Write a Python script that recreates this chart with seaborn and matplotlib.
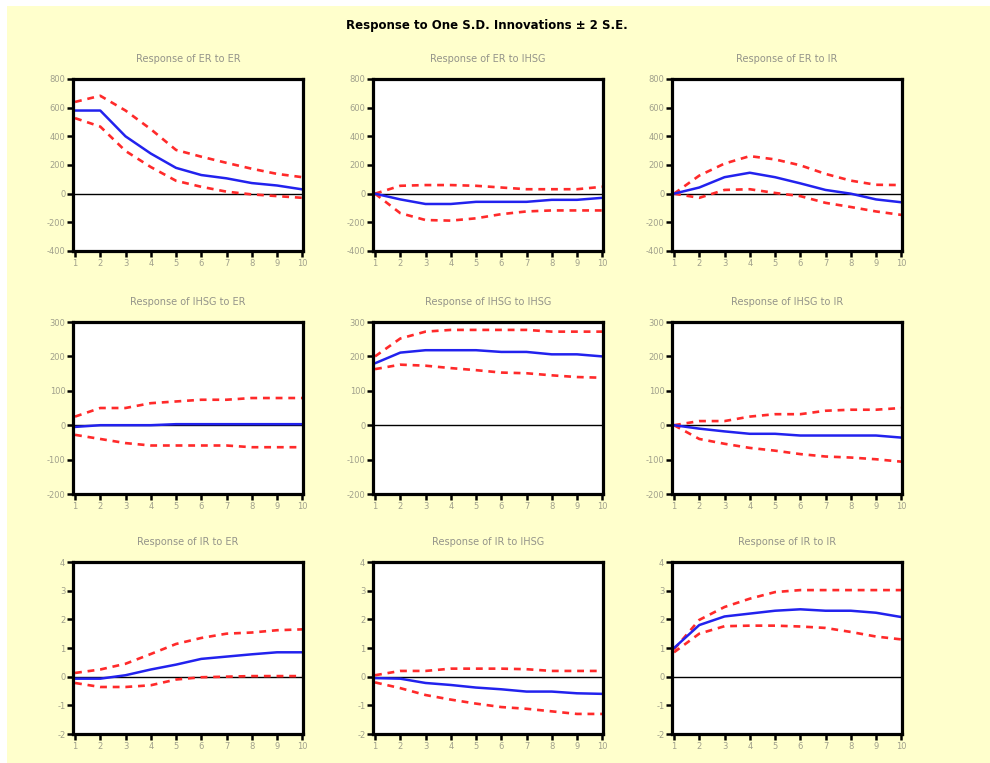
import numpy as np
import pandas as pd
import seaborn as sns
import matplotlib.pyplot as plt
from matplotlib.patches import Rectangle

# 脉冲响应期数
steps = [1, 2, 3, 4, 5, 6, 7, 8, 9, 10]
variables = ["ER", "IHSG", "IR"]

# Response of ER
er_er = [580, 580, 400, 280, 180, 130, 107, 74, 57, 30]
er_er_up = [640, 683, 580, 450, 305, 258, 215, 174, 138, 115]
er_er_lo = [527, 468, 298, 186, 90, 48, 14, -5, -17, -29]

er_ihsg = [0, -40, -72, -72, -57, -57, -57, -43, -43, -29]
er_ihsg_up = [0, 55, 60, 60, 55, 43, 31, 31, 31, 48]
er_ihsg_lo = [0, -136, -184, -188, -172, -143, -124, -117, -117, -117]

er_ir = [0, 43, 115, 146, 115, 72, 26, 0, -40, -60]
er_ir_up = [0, 126, 210, 262, 239, 198, 138, 91, 62, 60]
er_ir_lo = [0, -29, 26, 31, 5, -17, -64, -93, -124, -148]

# Response of IHSG
ihsg_er = [-5, 0, 0, 0, 3, 3, 3, 3, 3, 3]
ihsg_er_up = [25, 50, 50, 64, 69, 74, 74, 79, 79, 79]
ihsg_er_lo = [-28, -40, -52, -59, -59, -59, -59, -64, -64, -64]

ihsg_ihsg = [180, 211, 218, 218, 218, 213, 213, 206, 206, 200]
ihsg_ihsg_up = [200, 252, 272, 277, 277, 277, 277, 272, 272, 272]
ihsg_ihsg_lo = [163, 176, 173, 166, 160, 153, 151, 145, 140, 138]

ihsg_ir = [0, -10, -18, -25, -25, -30, -30, -30, -30, -36]
ihsg_ir_up = [0, 12, 12, 25, 32, 32, 42, 45, 45, 50]
ihsg_ir_lo = [0, -40, -54, -66, -74, -84, -91, -94, -99, -106]

# Response of IR
ir_er = [-0.07, -0.07, 0.05, 0.25, 0.42, 0.62, 0.70, 0.78, 0.85, 0.85]
ir_er_up = [0.13, 0.25, 0.45, 0.79, 1.14, 1.35, 1.50, 1.54, 1.62, 1.65]
ir_er_lo = [-0.22, -0.36, -0.36, -0.30, -0.10, -0.02, 0.0, 0.02, 0.02, 0.02]

ir_ihsg = [-0.05, -0.07, -0.22, -0.29, -0.38, -0.44, -0.52, -0.52, -0.58, -0.60]
ir_ihsg_up = [0.05, 0.20, 0.20, 0.28, 0.28, 0.28, 0.26, 0.20, 0.20, 0.20]
ir_ihsg_lo = [-0.20, -0.40, -0.64, -0.80, -0.94, -1.06, -1.12, -1.21, -1.30, -1.30]

ir_ir = [1.00, 1.80, 2.10, 2.20, 2.30, 2.35, 2.30, 2.30, 2.23, 2.08]
ir_ir_up = [0.95, 1.98, 2.43, 2.72, 2.95, 3.02, 3.02, 3.02, 3.02, 3.02]
ir_ir_lo = [0.85, 1.50, 1.76, 1.78, 1.78, 1.75, 1.70, 1.56, 1.40, 1.30]

panels = [
    [(er_er, er_er_up, er_er_lo), (er_ihsg, er_ihsg_up, er_ihsg_lo), (er_ir, er_ir_up, er_ir_lo)],
    [(ihsg_er, ihsg_er_up, ihsg_er_lo), (ihsg_ihsg, ihsg_ihsg_up, ihsg_ihsg_lo), (ihsg_ir, ihsg_ir_up, ihsg_ir_lo)],
    [(ir_er, ir_er_up, ir_er_lo), (ir_ihsg, ir_ihsg_up, ir_ihsg_lo), (ir_ir, ir_ir_up, ir_ir_lo)],
]
row_ylim = [(-400, 800), (-200, 300), (-2, 4)]
row_ticks = [[-400, -200, 0, 200, 400, 600, 800],
             [-200, -100, 0, 100, 200, 300],
             [-2, -1, 0, 1, 2, 3, 4]]

sns.set_style("white")
plt.rcParams['font.family'] = ['DejaVu Sans']
plt.rcParams['axes.unicode_minus'] = False

W, H = 990, 763
fig = plt.figure(figsize=(W / 100, H / 100), dpi=100, facecolor="#ffffcc")
# 左上角的白边
fig.patches.append(Rectangle((0, 1 - 6 / H), 1, 6 / H, transform=fig.transFigure,
                             facecolor="white", edgecolor="none", zorder=-5))
fig.patches.append(Rectangle((0, 0), 7 / W, 1, transform=fig.transFigure,
                             facecolor="white", edgecolor="none", zorder=-5))

fig.text(487 / W, 1 - 25 / H, "Response to One S.D. Innovations \u00b1 2 S.E.",
         ha="center", va="center", fontsize=8.5, fontweight="bold", color="black")

lefts = [73, 373, 672]
tops = [79, 322, 562]
aw, ah = 230, 172
text_gray = "#a0a08c"

for r in range(3):
    for c in range(3):
        ax = fig.add_axes([lefts[c] / W, 1 - (tops[r] + ah) / H, aw / W, ah / H])
        ax.set_facecolor("white")
        mid, up, lo = panels[r][c]
        sns.lineplot(x=steps, y=up, ax=ax, color="#ff2a2a", linewidth=1.9,
                     linestyle=(0, (2.6, 2.2)))
        sns.lineplot(x=steps, y=lo, ax=ax, color="#ff2a2a", linewidth=1.9,
                     linestyle=(0, (2.6, 2.2)))
        sns.lineplot(x=steps, y=mid, ax=ax, color="#2222ee", linewidth=1.8)
        ax.axhline(0, color="black", linewidth=1.0, zorder=1)
        ax.set_xlim(0.92, 10.03)
        ax.set_ylim(*row_ylim[r])
        ax.set_xticks(steps)
        ax.set_yticks(row_ticks[r])
        ax.tick_params(direction="out", length=4, width=1.8, color="black",
                       labelsize=6, labelcolor=text_gray, pad=1.5,
                       left=True, bottom=True)
        for s in ax.spines.values():
            s.set_linewidth(2.3)
            s.set_color("black")
        ax.set_title(f"Response of {variables[r]} to {variables[c]}",
                     fontsize=7, color="#94948a", pad=12)
        ax.set_xlabel("")
        ax.set_ylabel("")

fig.savefig("out.png", dpi=100, facecolor=fig.get_facecolor())
plt.close(fig)
